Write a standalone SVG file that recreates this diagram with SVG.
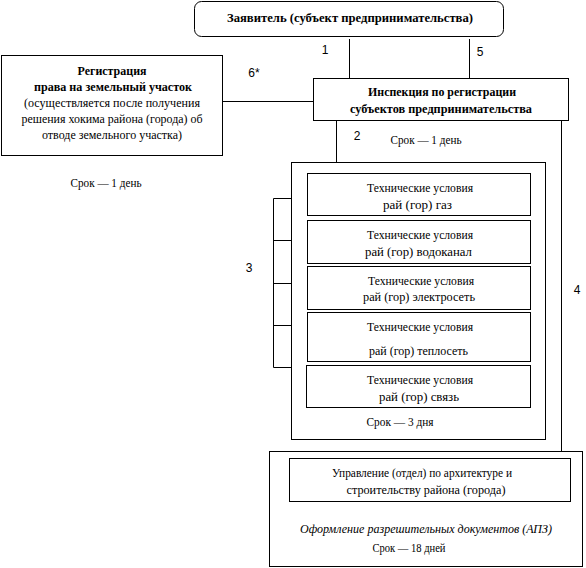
<svg xmlns="http://www.w3.org/2000/svg" width="586" height="568" viewBox="0 0 586 568" font-family="Liberation Serif, DejaVu Serif, serif">
<style>
  .box{fill:#fff;stroke:#000;stroke-width:1}
  .ln{stroke:#000;stroke-width:1;fill:none}
  text{font-size:13px;fill:#000;text-anchor:middle}
  .b{font-weight:bold}
  .i{font-style:italic}
  .s{font-size:12px}
  .num{font-family:"Liberation Sans",Arial,sans-serif;font-size:12px}
</style>
<rect width="586" height="568" fill="#fff"/>
<g id="connectors">
  <line class="ln" x1="349.5" y1="39" x2="349.5" y2="78"/>
  <line class="ln" x1="469.5" y1="39" x2="469.5" y2="78"/>
  <line class="ln" x1="223" y1="101.5" x2="313" y2="101.5"/>
  <line class="ln" x1="336.5" y1="120" x2="336.5" y2="162"/>
  <line class="ln" x1="561.5" y1="120" x2="561.5" y2="451"/>
  <polyline class="ln" points="292,198.5 273.5,198.5 273.5,367.5 292,367.5"/>
  <line class="ln" x1="273.5" y1="240.5" x2="292" y2="240.5"/>
  <line class="ln" x1="273.5" y1="283.5" x2="292" y2="283.5"/>
  <line class="ln" x1="273.5" y1="325.5" x2="292" y2="325.5"/>
  <text class="num" x="325" y="54">1</text>
  <text class="num" x="480" y="56">5</text>
  <text class="num" x="254" y="77">6*</text>
  <text class="num" x="357" y="140">2</text>
  <text class="num" x="249" y="272">3</text>
  <text class="num" x="577" y="294">4</text>
</g>
<g id="applicant">
  <rect class="box" x="194.5" y="1.5" width="309" height="35" rx="7"/>
  <text class="b" x="350" y="22" textLength="246" lengthAdjust="spacingAndGlyphs">Заявитель (субъект предпринимательства)</text>
</g>
<g id="land">
  <rect class="box" x="1.5" y="55.5" width="221" height="100"/>
  <text class="b" x="112" y="75" textLength="69" lengthAdjust="spacingAndGlyphs">Регистрация</text>
  <text class="b" x="113" y="91" textLength="158" lengthAdjust="spacingAndGlyphs">права на земельный участок</text>
  <text x="112" y="107" textLength="176" lengthAdjust="spacingAndGlyphs">(осуществляется после получения</text>
  <text x="112" y="123" textLength="181" lengthAdjust="spacingAndGlyphs">решения хокима района (города) об</text>
  <text x="112" y="139" textLength="140" lengthAdjust="spacingAndGlyphs">отводе земельного участка)</text>
  <text class="s" x="106" y="187" textLength="71" lengthAdjust="spacingAndGlyphs">Срок — 1 день</text>
</g>
<g id="inspection">
  <rect class="box" x="313.5" y="78.5" width="255" height="42"/>
  <text class="b" x="442" y="96" textLength="148" lengthAdjust="spacingAndGlyphs">Инспекция по регистрации</text>
  <text class="b" x="441" y="113" textLength="182" lengthAdjust="spacingAndGlyphs">субъектов предпринимательства</text>
  <text class="s" x="426" y="144" textLength="71" lengthAdjust="spacingAndGlyphs">Срок — 1 день</text>
</g>
<g id="tech">
  <rect class="box" x="291.5" y="162.5" width="254" height="277"/>
  <text class="s" x="400" y="426" textLength="67" lengthAdjust="spacingAndGlyphs">Срок — 3 дня</text>
</g>
<g id="gas">
  <rect class="box" x="307.5" y="173.5" width="223" height="42"/>
  <text x="420" y="192" textLength="106" lengthAdjust="spacingAndGlyphs">Технические условия</text>
  <text x="417.5" y="209" textLength="69" lengthAdjust="spacingAndGlyphs">рай (гор) газ</text>
</g>
<g id="water">
  <rect class="box" x="307.5" y="220.5" width="223" height="43"/>
  <text x="420" y="239" textLength="106" lengthAdjust="spacingAndGlyphs">Технические условия</text>
  <text x="418.5" y="256" textLength="107" lengthAdjust="spacingAndGlyphs">рай (гор) водоканал</text>
</g>
<g id="electric">
  <rect class="box" x="307.5" y="266.5" width="223" height="43"/>
  <text x="421" y="285" textLength="106" lengthAdjust="spacingAndGlyphs">Технические условия</text>
  <text x="419" y="301" textLength="112" lengthAdjust="spacingAndGlyphs">рай (гор) электросеть</text>
</g>
<g id="heat">
  <rect class="box" x="307.5" y="312.5" width="223" height="49"/>
  <text x="420" y="331" textLength="106" lengthAdjust="spacingAndGlyphs">Технические условия</text>
  <text x="418.5" y="355" textLength="99" lengthAdjust="spacingAndGlyphs">рай (гор) теплосеть</text>
</g>
<g id="comm">
  <rect class="box" x="306.5" y="365.5" width="224" height="42"/>
  <text x="420" y="384" textLength="106" lengthAdjust="spacingAndGlyphs">Технические условия</text>
  <text x="419" y="401" textLength="80" lengthAdjust="spacingAndGlyphs">рай (гор) связь</text>
</g>
<g id="architecture">
  <rect class="box" x="269.5" y="451.5" width="313" height="115"/>
  <rect class="box" x="289.5" y="458.5" width="281" height="43"/>
  <text x="422" y="477" textLength="180" lengthAdjust="spacingAndGlyphs">Управление (отдел) по архитектуре и</text>
  <text x="426" y="494" textLength="159" lengthAdjust="spacingAndGlyphs">строительству района (города)</text>
  <text class="i" x="426" y="533" textLength="252" lengthAdjust="spacingAndGlyphs">Оформление разрешительных документов (АПЗ)</text>
  <text class="s" x="409" y="552" textLength="73" lengthAdjust="spacingAndGlyphs">Срок — 18 дней</text>
</g>
</svg>
